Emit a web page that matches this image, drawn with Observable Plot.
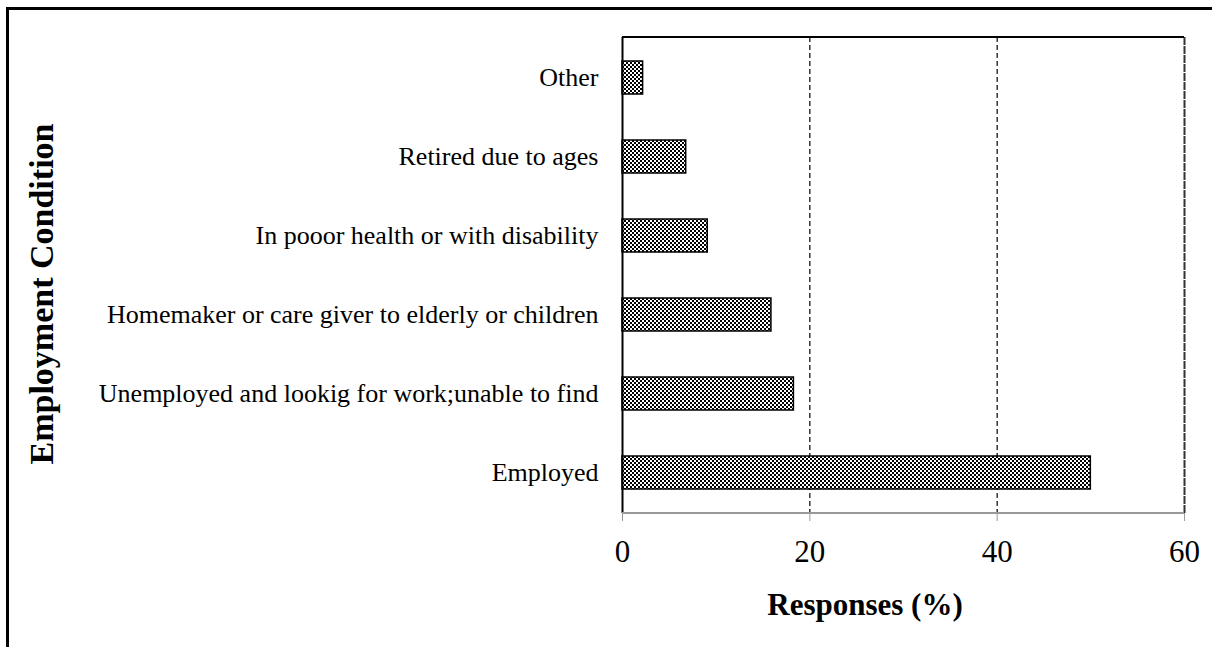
<!DOCTYPE html>
<html><head><meta charset="utf-8">
<script src="https://cdn.jsdelivr.net/npm/d3@7"></script>
<script src="https://cdn.jsdelivr.net/npm/@observablehq/plot@0.6"></script>
<style>
body{margin:0;background:#fff;}
#wrap{position:relative;width:1212px;height:647px;overflow:hidden;}
#border{position:absolute;left:6px;top:7px;width:1300px;height:800px;border-top:3px solid #000;border-left:3px solid #000;pointer-events:none;}
</style></head>
<body><div id="wrap"><div id="border"></div></div>
<script>
const categories = ["Other","Retired due to ages","In pooor health or with disability","Homemaker or care giver to elderly or children","Unemployed and lookig for work;unable to find","Employed"];
const values = [2.2, 6.8, 9.1, 15.9, 18.3, 50.0];
const xTicks = [0, 20, 40, 60];
const gridTicks = [20, 40];

const data = categories.map((c,i)=>({cat:c, v:values[i]}));

const chart = Plot.plot({
  width: 1212, height: 647,
  marginLeft: 622, marginRight: 28, marginTop: 37, marginBottom: 134,
  style: {fontFamily: "'Liberation Serif', 'Times New Roman', serif", background: "transparent", overflow: "visible"},
  x: {domain: [0, 60], ticks: xTicks, label: null},
  y: {domain: categories, paddingInner: 0.58, paddingOuter: 0.29, label: null},
  marks: [
    Plot.ruleX(gridTicks, {stroke: "#000", strokeWidth: 1.2, strokeDasharray: "5,3"}),
    Plot.ruleX([60], {stroke: "#333", strokeWidth: 2, strokeDasharray: "8,1"}),
    Plot.barX(data, {x: "v", y: "cat", fill: "url(#checker)", stroke: "#000", strokeWidth: 1.5}),
    Plot.ruleX([0], {stroke: "#000", strokeWidth: 2}),
    Plot.axisX({ticks: xTicks, tickSize: 8, tickPadding: 18, stroke: "#999", fontSize: 31, color: "#000", label: null}),
    Plot.axisY({tickSize: 0, tickPadding: 24, fontSize: 26, label: null})
  ]
});

const svg = d3.select(chart);
// checker pattern
const defs = svg.insert("defs", ":first-child");
const pat = defs.append("pattern").attr("id","checker").attr("width",4).attr("height",4).attr("patternUnits","userSpaceOnUse");
pat.append("rect").attr("width",4).attr("height",4).attr("fill","#fff");
pat.append("rect").attr("width",2).attr("height",2).attr("fill","#000");
pat.append("rect").attr("x",2).attr("y",2).attr("width",2).attr("height",2).attr("fill","#000");
// axis lines from scales
const xs = chart.scale("x");
const x0 = xs.apply(0), x1 = xs.apply(60);
const yTop = 37, yBot = 647 - 134;
svg.append("line").attr("x1",x0).attr("x2",x1).attr("y1",yTop).attr("y2",yTop).attr("stroke","#000").attr("stroke-width",2);
svg.append("line").attr("x1",x0).attr("x2",x1).attr("y1",yBot).attr("y2",yBot).attr("stroke","#999").attr("stroke-width",2);
// axis titles
svg.append("text").attr("x",865).attr("y",615).attr("text-anchor","middle")
  .attr("font-family","'Liberation Serif', serif").attr("font-size",31).attr("font-weight","bold").text("Responses (%)");
svg.append("text").attr("transform",`translate(53,294) rotate(-90)`).attr("text-anchor","middle")
  .attr("font-family","'Liberation Serif', serif").attr("font-size",34).attr("font-weight","bold").text("Employment Condition");
chart.style.position = "absolute"; chart.style.left = "0"; chart.style.top = "0";
document.getElementById("wrap").prepend(chart);
</script></body></html>
